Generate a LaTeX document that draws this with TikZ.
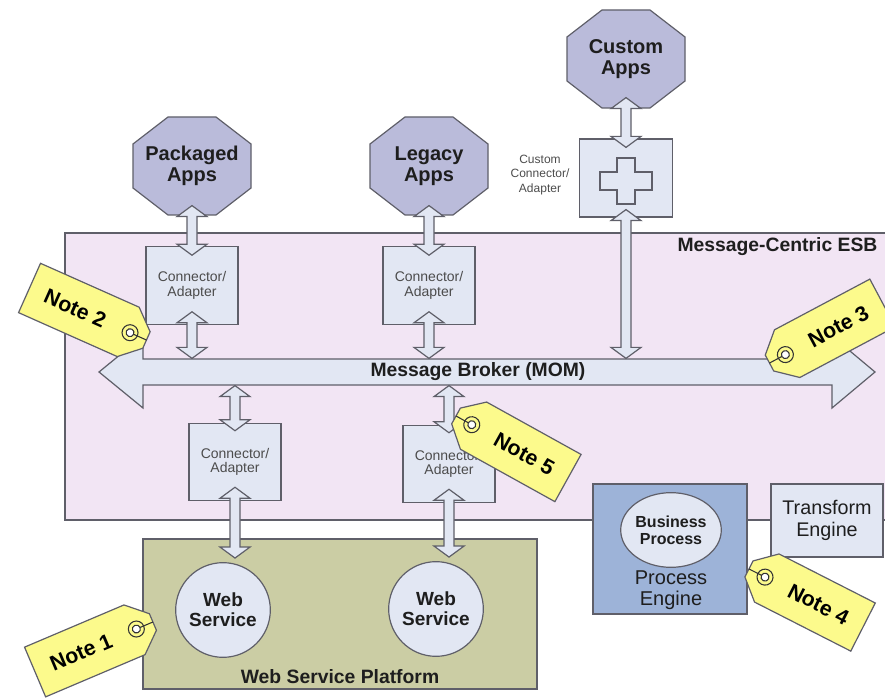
\documentclass[tikz,border=0pt]{standalone}
\usepackage{fontspec}
\setmainfont{Liberation Sans}
\usetikzlibrary{calc,shapes.geometric}

\definecolor{esbpink}{RGB}{242,229,244}
\definecolor{appblue}{RGB}{186,187,218}
\definecolor{paleblue}{RGB}{226,231,243}
\definecolor{wsgreen}{RGB}{203,205,164}
\definecolor{pesteel}{RGB}{157,179,216}
\definecolor{tagyellow}{RGB}{252,250,140}
\definecolor{edgegray}{RGB}{95,95,105}
\definecolor{inkgray}{RGB}{30,30,30}

\tikzset{every picture/.style={line width=0.9pt}}
\tikzset{
  octfill/.style={draw=edgegray, fill=appblue},
  apptext/.style={align=center, inner sep=0pt, text=inkgray, font=\fontsize{15}{15.75}\selectfont\bfseries},
  biglabel/.style={inner sep=0pt, text=inkgray, font=\fontsize{14.5}{16}\selectfont\bfseries},
  adapter/.style={draw=edgegray, fill=paleblue, minimum width=69pt, minimum height=58pt, align=center, text=black!70, font=\fontsize{10.5}{11}\selectfont},
  smalltext/.style={align=center, inner sep=0pt, text=black!70, font=\fontsize{9}{11}\selectfont},
  plainbox/.style={draw=edgegray, fill=paleblue, inner sep=0pt},
  wsnode/.style={circle, draw=edgegray, fill=paleblue, minimum size=71pt, inner sep=0pt, align=center, text=inkgray, font=\fontsize{14.25}{15}\selectfont\bfseries},
  bpnode/.style={ellipse, draw=edgegray, fill=paleblue, minimum width=64.5pt, minimum height=56pt, inner sep=0pt, align=center, text=inkgray, font=\fontsize{12}{12.5}\selectfont\bfseries},
  enginetext/.style={align=center, inner sep=0pt, text=inkgray, font=\fontsize{15}{15.5}\selectfont},
  fatlink/.style={draw=edgegray, fill=paleblue, line join=miter},
  tagbody/.style={draw=edgegray, fill=tagyellow},
  tagring/.style={draw=black!80, line width=0.8pt},
  tagtext/.style={inner sep=0pt, text=black, font=\fontsize{16}{16}\selectfont\bfseries}
}

% octagon with its label: name, centre, text
\newcommand{\appoct}[3]{%
  \draw[octfill] (#2) ++(-24,-49) -- ++(48,0) -- ++(35,27) -- ++(0,44) -- ++(-35,27) -- ++(-48,0) -- ++(-35,-27) -- ++(0,-44) -- cycle;
  \node[apptext, minimum width=88.5pt, minimum height=73.5pt] (#1) at (#2) {#3};}

% vertical block arrow, two heads: top point, its shift, bottom point, its shift
\newcommand{\fatlink}[4]{%
  \draw[fatlink] ($(#1)+(0,#2)$) -- ($(#1)+(15,#2+11)$) -- ($(#1)+(5,#2+11)$) -- ($(#3)+(5,#4-11)$) -- ($(#3)+(15,#4-11)$) -- ($(#3)+(0,#4)$) -- ($(#3)+(-15,#4-11)$) -- ($(#3)+(-5,#4-11)$) -- ($(#1)+(-5,#2+11)$) -- ($(#1)+(-15,#2+11)$) -- cycle;}

% luggage tag: name, centre, tag angle, text angle, text
\newcommand{\notetag}[5]{%
  \begin{scope}[shift={(#2)}, rotate=#3]
    \draw[tagbody] (-64,-27) -- (44,-27) -- (64,-9) -- (64,9) -- (44,27) -- (-64,27) -- cycle;
    \draw[tagring] (46,0) -- (64,0);
    \draw[tagring] (46,0) circle (8);
    \draw[tagring, fill=white] (46,0) circle (4);
    \node[tagtext, rotate=#4] (#1) at (-14,0) {#5};
  \end{scope}}

\begin{document}
\begin{tikzpicture}[x=0.75pt,y=0.75pt,yscale=-1,xscale=1]
\useasboundingbox (0,0) rectangle (885,698);

%Shape: Rectangle [message-centric ESB]
\fill[esbpink] (65,233) rectangle (885,520);
\draw[edgegray] (885,233) -- (65,233) -- (65,520) -- (885,520);
% Text Node
\node[biglabel, anchor=east] (esb) at (878,247) {Message-Centric ESB};

%Shape: Rectangle [web service platform]
\node[draw=edgegray, fill=wsgreen, minimum width=295.5pt, minimum height=112.5pt] (wsp) at (340,614) {};
% Text Node
\node[biglabel] (wsplabel) at (340,677) {Web Service Platform};

%Shape: Octagons
\appoct{pkg}{192,166}{Packaged\\Apps}
\appoct{leg}{429,166}{Legacy\\Apps}
\appoct{cus}{626,59}{Custom\\Apps}

%Shape: Connector boxes
\node[adapter] (pcon) at (192,285.5) {Connector/\\Adapter};
\node[adapter] (lcon) at (429,285.5) {Connector/\\Adapter};
\node[adapter] (bcon1) at (235,462) {Connector/\\Adapter};
\node[adapter] (bcon2) at (449,464) {Connector/\\Adapter};

%Shape: Custom connector with plus sign
\node[plainbox, minimum width=69.75pt, minimum height=58.5pt] (cbox) at (626,178) {};
\draw[draw=edgegray, fill=paleblue] (cbox.center) ++(-9,-20) -- ++(18,0) -- ++(0,14) -- ++(17,0) -- ++(0,18) -- ++(-17,0) -- ++(0,14) -- ++(-18,0) -- ++(0,-14) -- ++(-17,0) -- ++(0,-18) -- ++(17,0) -- cycle;
% Text Node
\node[smalltext] (cuslabel) at (540,175) {Custom\\Connector/\\Adapter};

%Shape: Message broker arrow
\draw[fatlink] (99,372) -- (143,336) -- (143,359) -- (832,359) -- (832,336) -- (875,372) -- (832,408) -- (832,385) -- (143,385) -- (143,408) -- cycle;
% Text Node
\node[biglabel, minimum height=19.5pt] (mom) at (478,372) {Message Broker (MOM)};

%Shape: Web services
\node[wsnode] (ws1) at (223,610) {Web\\Service};
\node[wsnode] (ws2) at (436,609) {Web\\Service};

%Shape: Process engine
\node[draw=edgegray, fill=pesteel, minimum width=115.5pt, minimum height=97.5pt] (pe) at (670,549) {};
\node[bpnode] (bp) at (671,530) {Business\\Process};
\node[enginetext] (pelabel) at (671,590) {Process\\Engine};

%Shape: Transform engine
\node[plainbox, enginetext, minimum width=84pt, minimum height=54.75pt, font=\fontsize{14.8}{16.5}\selectfont] (te) at (827,520.5) {Transform\\Engine};

%Block arrows
\fatlink{pkg.south}{-10}{pcon.north}{9}
\fatlink{leg.south}{-10}{lcon.north}{9}
\fatlink{cus.south}{-11}{cbox.north}{9}
\fatlink{pcon.south}{-13}{pcon.south |- mom.north}{0}
\fatlink{lcon.south}{-13}{lcon.south |- mom.north}{0}
\fatlink{cbox.south}{-8}{cbox.south |- mom.north}{0}
\fatlink{bcon1.north |- mom.south}{0}{bcon1.north}{8}
\fatlink{bcon2.north |- mom.south}{0}{bcon2.north}{8}
\fatlink{bcon1.south}{-14}{bcon1.south |- ws1.north}{-4}
\fatlink{bcon2.south}{-14}{bcon2.south |- ws2.north}{-4}

%Notes
\notetag{note1}{94,647}{-23}{23}{Note 1}
\notetag{note2}{88,314}{24}{-24}{Note 2}
\notetag{note3}{826,333}{152}{28}{Note 3}
\notetag{note4}{806,598}{207}{-27}{Note 4}
\notetag{note5}{512,447}{209}{-29}{Note 5}

\end{tikzpicture}
\end{document}
